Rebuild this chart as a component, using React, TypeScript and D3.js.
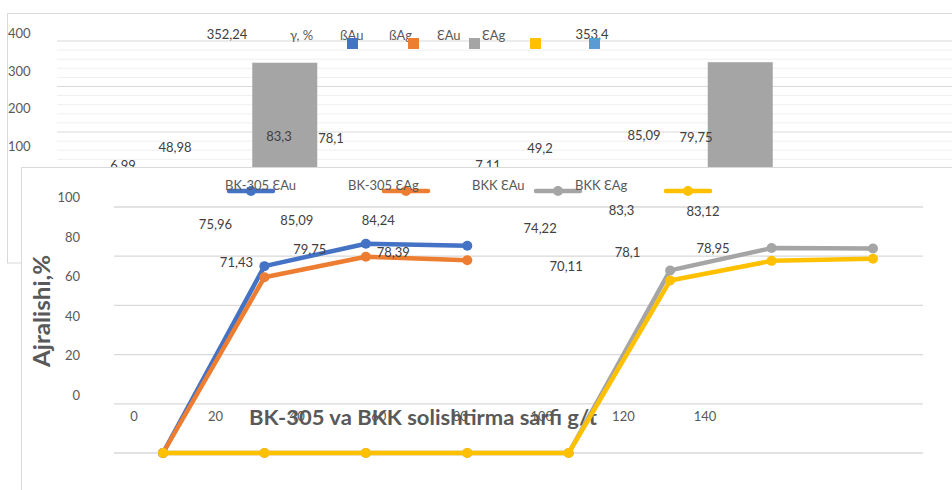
import React from 'react';
import * as d3 from 'd3';

const W = 952;
const H = 490;

// ---- front (line) chart data ----
const categories = ['1', '2', '3', '4', '5', '6', '7', '8'];
const bk305Au: (number | null)[] = [0, 75.96, 85.09, 84.24, null, null, null, null];
const bk305Ag: (number | null)[] = [0, 71.43, 79.75, 78.39, null, null, null, null];
const bkkAu: (number | null)[] = [0, 0, 0, 0, 0, 74.22, 83.3, 83.12];
const bkkAg: (number | null)[] = [0, 0, 0, 0, 0, 70.11, 78.1, 78.95];
const seriesNames = ['BK-305 ƐAu', 'BK-305 ƐAg', 'BKK ƐAu', 'BKK ƐAg'];
const seriesColors = ['#4472C4', '#ED7D31', '#A5A5A5', '#FFC000'];
const yTicks = [0, 20, 40, 60, 80, 100];
const xTicks = [0, 20, 40, 60, 80, 100, 120, 140];
const yTitle = 'Ajralishi,%';
const xTitle = 'BK-305 va BKK solishtirma sarfi g/t';

// ---- background (column) chart data ----
const bgGroups = ['g1', 'g2'];
const bgBarValues = [352.24, 353.4];
const bgLabelsG1 = ['6,99', '48,98', '352,24', '83,3', '78,1'];
const bgLabelsG2 = ['7,11', '49,2', '353,4', '85,09', '79,75'];
const bgYTicks = [100, 200, 300, 400];
const bgLegendNames = ['γ, %', 'ßAu', 'ßAg', 'ƐAu', 'ƐAg'];
const bgLegendColors = ['#4472C4', '#ED7D31', '#A5A5A5', '#FFC000', '#5B9BD5'];

// ---- layout (positions only) ----
const bgLabelStart = [123, 488];
const bgLabelBaselines = [
  [170, 152, 39, 141, 143],
  [170, 153, 39, 140, 142],
];
const bgLegendTextX = [290, 340, 389, 437, 482];
const bgSwatchX = [347, 408, 469, 530, 589];
const labelOffsets = [
  [[-49, -37], [-69, -19], [-89, -21]],
  [[-28, -10], [-56, -3], [-74, -3]],
  [[-130, -37], [-150, -33], [-170, -33]],
  [[-104, -10], [-144, -4], [-160, -6]],
];
const legendTextX = [225, 348, 472, 575];
const legendMarkX = [251, 406, 558, 688];

const FONT = 'Lato, "Open Sans", sans-serif';

export default function App() {
  const series = [bk305Au, bk305Ag, bkkAu, bkkAg];

  // background scales
  const bgY = d3.scaleLinear().domain([0, 400]).range([223, 41]);
  const bgX = d3.scaleBand().domain(bgGroups).range([57, 968]);
  const bgYLab = d3.scaleLinear().domain([100, 400]).range([151, 38]);
  const bgGrid = d3.range(0, 420, 20);

  // front scales
  const x = d3.scalePoint().domain(categories).range([163, 873]);
  const y = d3.scaleLinear().domain([0, 100]).range([453, 207]);
  const xTick = d3.scaleLinear().domain([0, 140]).range([134, 705]);
  const yTickLab = d3.scaleLinear().domain([0, 100]).range([400, 202]);

  const line = d3
    .line<number | null>()
    .defined((d) => d !== null)
    .x((_, i) => x(categories[i]) as number)
    .y((d) => y(d as number));

  return (
    <svg
      width={W}
      height={H}
      style={{ position: 'absolute', left: 0, top: 0, fontFamily: FONT }}
    >
      <rect x={0} y={0} width={W} height={H} fill="#fff" />

      {/* ================= background chart ================= */}
      <rect x={7.5} y={13.5} width={1000} height={249.5} fill="#fff" stroke="#d9d9d9" />
      {bgGrid.map((v) => (
        <line
          key={'bg' + v}
          x1={57}
          x2={W}
          y1={bgY(v)}
          y2={bgY(v)}
          stroke={v % 100 === 0 ? '#d9d9d9' : '#efefef'}
          strokeWidth={1}
        />
      ))}
      {bgYTicks.map((v) => (
        <text key={'bgt' + v} x={8} y={bgYLab(v)} fontSize={13} fill="#595959">
          {v}
        </text>
      ))}
      {bgGroups.map((g, i) => {
        const cx = (bgX(g) as number) + bgX.bandwidth() / 2;
        return (
          <rect
            key={'bar' + g}
            x={cx - 32.5}
            y={bgY(bgBarValues[i])}
            width={65}
            height={bgY(0) - bgY(bgBarValues[i])}
            fill="#A5A5A5"
          />
        );
      })}
      {[bgLabelsG1, bgLabelsG2].map((labels, gi) => {
        const lx = d3.scaleLinear().domain([0, 4]).range([bgLabelStart[gi], bgLabelStart[gi] + 208]);
        return labels.map((t, i) => (
          <text
            key={'bgl' + gi + i}
            x={lx(i)}
            y={bgLabelBaselines[gi][i]}
            fontSize={13}
            fill="#404040"
            textAnchor="middle"
          >
            {t}
          </text>
        ));
      })}
      {bgLegendNames.map((n, i) => (
        <text key={'bgn' + i} x={bgLegendTextX[i]} y={40} fontSize={13} fill="#595959">
          {n}
        </text>
      ))}
      {bgLegendColors.map((c, i) => (
        <rect key={'bgs' + i} x={bgSwatchX[i]} y={38} width={11} height={11} fill={c} />
      ))}

      {/* ================= front chart ================= */}
      <rect x={21.5} y={167.5} width={1000} height={400} fill="#fff" stroke="#d9d9d9" />
      {yTicks.map((v) => (
        <line key={'g' + v} x1={114} x2={923} y1={y(v)} y2={y(v)} stroke="#d9d9d9" strokeWidth={1.3} />
      ))}
      {yTicks.map((v) => (
        <text key={'yt' + v} x={80} y={yTickLab(v)} fontSize={13} fill="#595959" textAnchor="end">
          {v}
        </text>
      ))}
      {xTicks.map((v) => (
        <text key={'xt' + v} x={xTick(v)} y={421} fontSize={13} fill="#595959" textAnchor="middle">
          {v}
        </text>
      ))}
      <text
        x={423}
        y={425}
        fontSize={20}
        fontWeight="bold"
        fill="#595959"
        textAnchor="middle"
        textLength={348}
        lengthAdjust="spacingAndGlyphs"
      >
        {xTitle}
      </text>
      <text
        transform={`translate(50,311) rotate(-90)`}
        fontSize={22}
        fontWeight="bold"
        fill="#595959"
        textAnchor="middle"
        textLength={112}
        lengthAdjust="spacingAndGlyphs"
      >
        {yTitle}
      </text>

      {series.map((s, si) => (
        <g key={'s' + si}>
          <path d={line(s) || ''} fill="none" stroke={seriesColors[si]} strokeWidth={4.5} strokeLinejoin="round" />
          {s.map((d, i) =>
            d === null ? null : (
              <circle key={i} cx={x(categories[i]) as number} cy={y(d)} r={5} fill={seriesColors[si]} />
            )
          )}
        </g>
      ))}

      {series.map((s, si) => {
        const pts = s
          .map((d, i) => ({ d, i }))
          .filter((p) => p.d !== null && (p.d as number) > 0);
        return pts.map((p, k) => (
          <text
            key={'dl' + si + k}
            x={(x(categories[p.i]) as number) + labelOffsets[si][k][0]}
            y={y(p.d as number) + labelOffsets[si][k][1]}
            fontSize={13}
            fill="#404040"
            textAnchor="middle"
          >
            {String(p.d).replace('.', ',')}
          </text>
        ));
      })}

      {seriesNames.map((n, i) => (
        <g key={'lg' + i}>
          <line
            x1={legendMarkX[i] - 22}
            x2={legendMarkX[i] + 22}
            y1={191}
            y2={191}
            stroke={seriesColors[i]}
            strokeWidth={4.5}
            strokeLinecap="round"
          />
          <circle cx={legendMarkX[i]} cy={191} r={5} fill={seriesColors[i]} />
          <text x={legendTextX[i]} y={190} fontSize={13} fill="#595959">
            {n}
          </text>
        </g>
      ))}
    </svg>
  );
}
